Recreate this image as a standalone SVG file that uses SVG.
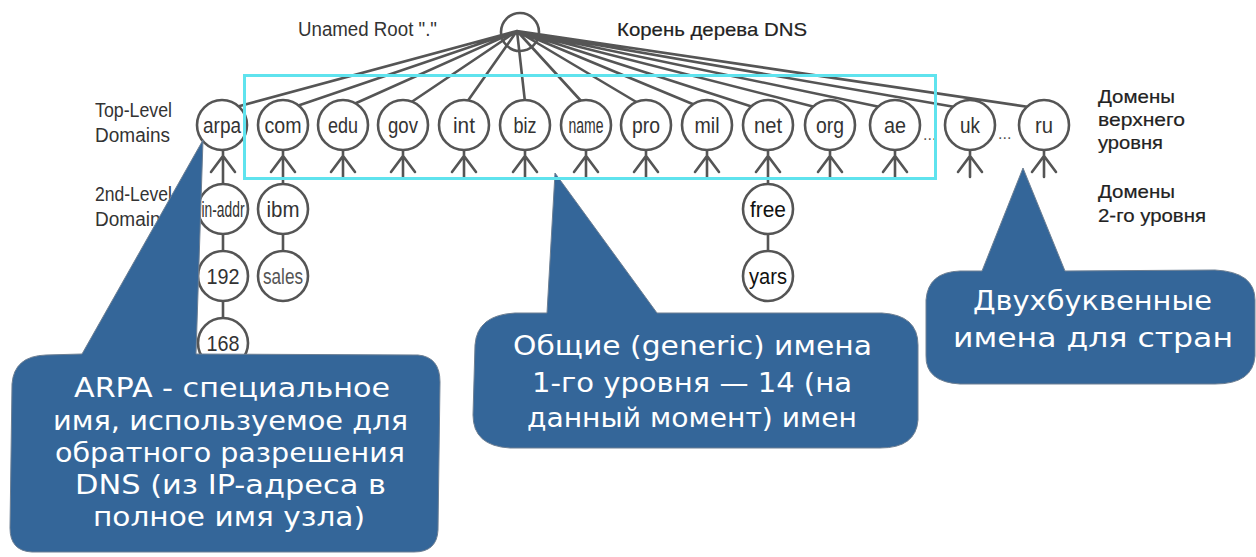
<svg xmlns="http://www.w3.org/2000/svg" width="1256" height="557" viewBox="0 0 1256 557">
<style>
.ln{stroke:#555;stroke-width:2.6;fill:none;stroke-linecap:round}
.nd{fill:#fff;stroke:#555;stroke-width:2.6}
.nt{font-family:"Liberation Sans",Arial,sans-serif;font-size:22px;fill:#333;text-anchor:middle}
.lb{font-family:"Liberation Sans",Arial,sans-serif;font-size:20px;fill:#333}
.rl{font-family:"Liberation Sans",Arial,sans-serif;font-size:19px;fill:#222;stroke:#222;stroke-width:0.2}
.co{fill:#346699;stroke:#6d7f93;stroke-width:1}
.ct{font-family:"DejaVu Sans",Verdana,sans-serif;font-size:26px;fill:#fff}
</style>
<rect width="1256" height="557" fill="#fff"/>
<g id="connectors">
<path class="ln" d="M517,31 L236,107 M517,31 L297,106 M517,31 L354,104 M517,31 L410,103 M517,31 L467,102 M517,31 L525,102 M517,31 L582,102 M517,31 L638,103 M517,31 L695,105 M517,31 L753,107 M517,31 L815,107 M517,31 L880,107 M517,31 L955,107 M517,31 L1029,107"/>
<path class="ln" d="M223,150 V184 M211,172 L223,156 L235,172"/>
<path class="ln" d="M283,150 V184 M271,172 L283,156 L295,172"/>
<path class="ln" d="M343,150 V177 M331,172 L343,156 L355,172"/>
<path class="ln" d="M403,150 V177 M391,172 L403,156 L415,172"/>
<path class="ln" d="M464,150 V177 M452,172 L464,156 L476,172"/>
<path class="ln" d="M525,150 V177 M513,172 L525,156 L537,172"/>
<path class="ln" d="M586,150 V177 M574,172 L586,156 L598,172"/>
<path class="ln" d="M646,150 V177 M634,172 L646,156 L658,172"/>
<path class="ln" d="M707,150 V177 M695,172 L707,156 L719,172"/>
<path class="ln" d="M768,150 V184 M756,172 L768,156 L780,172"/>
<path class="ln" d="M830,150 V177 M818,172 L830,156 L842,172"/>
<path class="ln" d="M895,150 V177 M883,172 L895,156 L907,172"/>
<path class="ln" d="M970,150 V177 M958,172 L970,156 L982,172"/>
<path class="ln" d="M1044,150 V177 M1032,172 L1044,156 L1056,172"/>
<path class="ln" d="M223,234 V251 M223,301 V318 M283,234 V251 M768,234 V251"/>
</g>
<g id="root"><circle cx="520" cy="32" r="19" fill="none" stroke="#555" stroke-width="2.6"/></g>
<g id="n-arpa"><circle class="nd" cx="222" cy="125" r="25"/><text class="nt" x="222" y="133" textLength="38" lengthAdjust="spacingAndGlyphs">arpa</text></g>
<g id="n-com"><circle class="nd" cx="283" cy="125" r="25"/><text class="nt" x="283" y="133" textLength="37" lengthAdjust="spacingAndGlyphs">com</text></g>
<g id="n-edu"><circle class="nd" cx="343" cy="125" r="25"/><text class="nt" x="343" y="133" textLength="30" lengthAdjust="spacingAndGlyphs">edu</text></g>
<g id="n-gov"><circle class="nd" cx="403" cy="125" r="25"/><text class="nt" x="403" y="133" textLength="30" lengthAdjust="spacingAndGlyphs">gov</text></g>
<g id="n-int"><circle class="nd" cx="464" cy="125" r="25"/><text class="nt" x="464" y="133" textLength="22" lengthAdjust="spacingAndGlyphs">int</text></g>
<g id="n-biz"><circle class="nd" cx="525" cy="125" r="25"/><text class="nt" x="525" y="133" textLength="23" lengthAdjust="spacingAndGlyphs">biz</text></g>
<g id="n-name"><circle class="nd" cx="586" cy="125" r="25"/><text class="nt" x="586" y="133" textLength="35" lengthAdjust="spacingAndGlyphs">name</text></g>
<g id="n-pro"><circle class="nd" cx="646" cy="125" r="25"/><text class="nt" x="646" y="133" textLength="28" lengthAdjust="spacingAndGlyphs">pro</text></g>
<g id="n-mil"><circle class="nd" cx="707" cy="125" r="25"/><text class="nt" x="707" y="133" textLength="25" lengthAdjust="spacingAndGlyphs">mil</text></g>
<g id="n-net"><circle class="nd" cx="768" cy="125" r="25"/><text class="nt" x="768" y="133" textLength="28" lengthAdjust="spacingAndGlyphs">net</text></g>
<g id="n-org"><circle class="nd" cx="830" cy="125" r="25"/><text class="nt" x="830" y="133" textLength="28" lengthAdjust="spacingAndGlyphs">org</text></g>
<g id="n-ae"><circle class="nd" cx="895" cy="125" r="25"/><text class="nt" x="895" y="133" textLength="22" lengthAdjust="spacingAndGlyphs">ae</text></g>
<g id="n-uk"><circle class="nd" cx="970" cy="125" r="25"/><text class="nt" x="970" y="133" textLength="20" lengthAdjust="spacingAndGlyphs">uk</text></g>
<g id="n-ru"><circle class="nd" cx="1044" cy="125" r="25"/><text class="nt" x="1044" y="133" textLength="18" lengthAdjust="spacingAndGlyphs">ru</text></g>
<g id="n-in-addr"><circle class="nd" cx="223" cy="209" r="25"/><text class="nt" x="223" y="217" textLength="43" lengthAdjust="spacingAndGlyphs">in-addr</text></g>
<g id="n-192"><circle class="nd" cx="223" cy="276" r="25"/><text class="nt" x="223" y="284" textLength="33" lengthAdjust="spacingAndGlyphs">192</text></g>
<g id="n-168"><circle class="nd" cx="223" cy="343" r="25"/><text class="nt" x="223" y="351" textLength="33" lengthAdjust="spacingAndGlyphs">168</text></g>
<g id="n-ibm"><circle class="nd" cx="283" cy="209" r="25"/><text class="nt" x="283" y="217" textLength="33" lengthAdjust="spacingAndGlyphs">ibm</text></g>
<g id="n-sales"><circle class="nd" cx="283" cy="276" r="25"/><text class="nt" x="283" y="284" textLength="40" lengthAdjust="spacingAndGlyphs" style="fill:#555">sales</text></g>
<g id="n-free"><circle class="nd" cx="768" cy="209" r="25"/><text class="nt" x="768" y="217" textLength="36" lengthAdjust="spacingAndGlyphs" style="fill:#111">free</text></g>
<g id="n-yars"><circle class="nd" cx="768" cy="276" r="25"/><text class="nt" x="768" y="284" textLength="38" lengthAdjust="spacingAndGlyphs" style="fill:#111">yars</text></g>
<g id="labels">
<text class="lb" x="298" y="36" textLength="139" lengthAdjust="spacingAndGlyphs">Unamed Root "."</text>
<text class="rl" x="617" y="36" textLength="190" lengthAdjust="spacingAndGlyphs">Корень дерева DNS</text>
<text class="lb" x="95" y="117" textLength="77" lengthAdjust="spacingAndGlyphs">Top-Level</text>
<text class="lb" x="95" y="142" textLength="75" lengthAdjust="spacingAndGlyphs">Domains</text>
<text class="lb" x="95" y="201" textLength="77" lengthAdjust="spacingAndGlyphs">2nd-Level</text>
<text class="lb" x="95" y="226" textLength="75" lengthAdjust="spacingAndGlyphs">Domains</text>
<text class="rl" x="1098" y="103" textLength="77" lengthAdjust="spacingAndGlyphs">Домены</text>
<text class="rl" x="1098" y="126" textLength="87" lengthAdjust="spacingAndGlyphs">верхнего</text>
<text class="rl" x="1098" y="149" textLength="65" lengthAdjust="spacingAndGlyphs">уровня</text>
<text class="rl" x="1098" y="198" textLength="77" lengthAdjust="spacingAndGlyphs">Домены</text>
<text class="rl" x="1098" y="222" textLength="108" lengthAdjust="spacingAndGlyphs">2-го уровня</text>
<text class="lb" x="923" y="140" style="fill:#555;font-size:16px">...</text>
<text class="lb" x="998" y="139" style="fill:#555;font-size:16px">...</text>
</g>
<g id="callout-arpa">
<path class="co" d="M203,140 L196,354 L418,355 Q440,357 440,382 L438,530 Q437,552 414,552 L32,552 Q10,551 10,528 L12,384 Q14,356 46,355 L82,354 Z"/>
<text class="ct" style="font-size:27px" x="74" y="397" textLength="316" lengthAdjust="spacingAndGlyphs">ARPA - специальное</text>
<text class="ct" style="font-size:27px" x="53" y="430" textLength="355" lengthAdjust="spacingAndGlyphs">имя, используемое для</text>
<text class="ct" style="font-size:27px" x="55" y="462" textLength="350" lengthAdjust="spacingAndGlyphs">обратного разрешения</text>
<text class="ct" style="font-size:27px" x="75" y="494" textLength="311" lengthAdjust="spacingAndGlyphs">DNS (из IP-адреса в</text>
<text class="ct" style="font-size:27px" x="93" y="526" textLength="272" lengthAdjust="spacingAndGlyphs">полное имя узла)</text>
</g>
<g id="callout-generic">
<path class="co" d="M555,173 L657,313 L882,313 Q918,315 918,345 L918,420 Q916,448 880,448 L510,448 Q473,446 473,415 L475,345 Q477,315 515,313 L547,313 Z"/>
<text class="ct" x="513" y="355" textLength="359" lengthAdjust="spacingAndGlyphs">Общие (generic) имена</text>
<text class="ct" x="532" y="392" textLength="320" lengthAdjust="spacingAndGlyphs">1-го уровня — 14 (на</text>
<text class="ct" x="527" y="427" textLength="330" lengthAdjust="spacingAndGlyphs">данный момент) имен</text>
</g>
<g id="callout-country">
<path class="co" d="M1023,168 L1065,271 L1215,270 Q1255,272 1255,300 L1255,356 Q1253,384 1215,384 L960,384 Q925,382 926,355 L926,300 Q928,272 960,271 L982,271 Z"/>
<text class="ct" x="973" y="310" textLength="239" lengthAdjust="spacingAndGlyphs">Двухбуквенные</text>
<text class="ct" x="953" y="347" textLength="280" lengthAdjust="spacingAndGlyphs">имена для стран</text>
</g>
<rect id="generic-frame" x="244.5" y="75.5" width="691" height="103" fill="none" stroke="#5fe3ee" stroke-width="3"/>
</svg>
